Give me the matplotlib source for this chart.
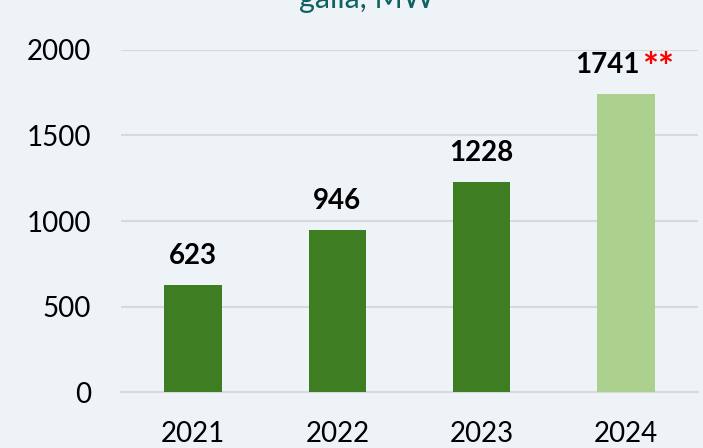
import matplotlib.pyplot as plt

# Daten
jahre = ["2021", "2022", "2023", "2024"]
werte = [623, 946, 1228, 1741]
farben = ["#3f7d23", "#3f7d23", "#3f7d23", "#acd18f"]
y_ticks = [0, 500, 1000, 1500, 2000]

hintergrund = "#eef3f7"

fig = plt.figure(figsize=(7.03, 4.48), dpi=100, facecolor=hintergrund)
ax = fig.add_axes([121 / 703, 56 / 448, 577 / 703, 342 / 448])
ax.set_facecolor(hintergrund)

x = range(len(jahre))
ax.bar(x, werte, width=0.40, color=farben, zorder=3)

# Beschriftung über den Balken (der letzte Wert bekommt rote Sternchen)
for i, w in enumerate(werte):
    if i == len(werte) - 1:
        ax.annotate(str(w), (i, w), xytext=(14, 21), textcoords="offset pixels",
                    ha="right", va="baseline", fontsize=20, fontweight="bold",
                    family="Lato", color="black", annotation_clip=False)
        ax.annotate("**", (i, w), xytext=(16, 14), textcoords="offset pixels",
                    ha="left", va="baseline", fontsize=27, fontweight="bold",
                    family="Lato", color="#ff0000", annotation_clip=False)
    else:
        ax.annotate(str(w), (i, w), xytext=(0, 21), textcoords="offset pixels",
                    ha="center", va="baseline", fontsize=20, fontweight="bold",
                    family="Lato", color="black", annotation_clip=False)

ax.set_xlim(-0.5, 3.5)
ax.set_ylim(0, 2000)
ax.set_xticks(list(x))
ax.set_xticklabels(jahre, family="Lato", fontsize=20)
ax.set_yticks(y_ticks)
ax.set_yticklabels([str(t) for t in y_ticks], family="Lato", fontsize=20)
ax.tick_params(length=0)
ax.tick_params(axis="y", pad=21.5)
ax.tick_params(axis="x", pad=21)

ax.grid(axis="y", color="#d9d9d9", linewidth=1.5, zorder=0)
for s in ["top", "right", "left"]:
    ax.spines[s].set_visible(False)
ax.spines["bottom"].set_color("#d9d9d9")
ax.spines["bottom"].set_linewidth(1.5)

# Titel (oben abgeschnitten wie im Original)
fig.text(367 / 703, 440 / 448, "galia, MW", ha="center", va="baseline",
         fontsize=22, family="Lato", color="#106262")

fig.savefig("out.png", dpi=100, facecolor=hintergrund)
